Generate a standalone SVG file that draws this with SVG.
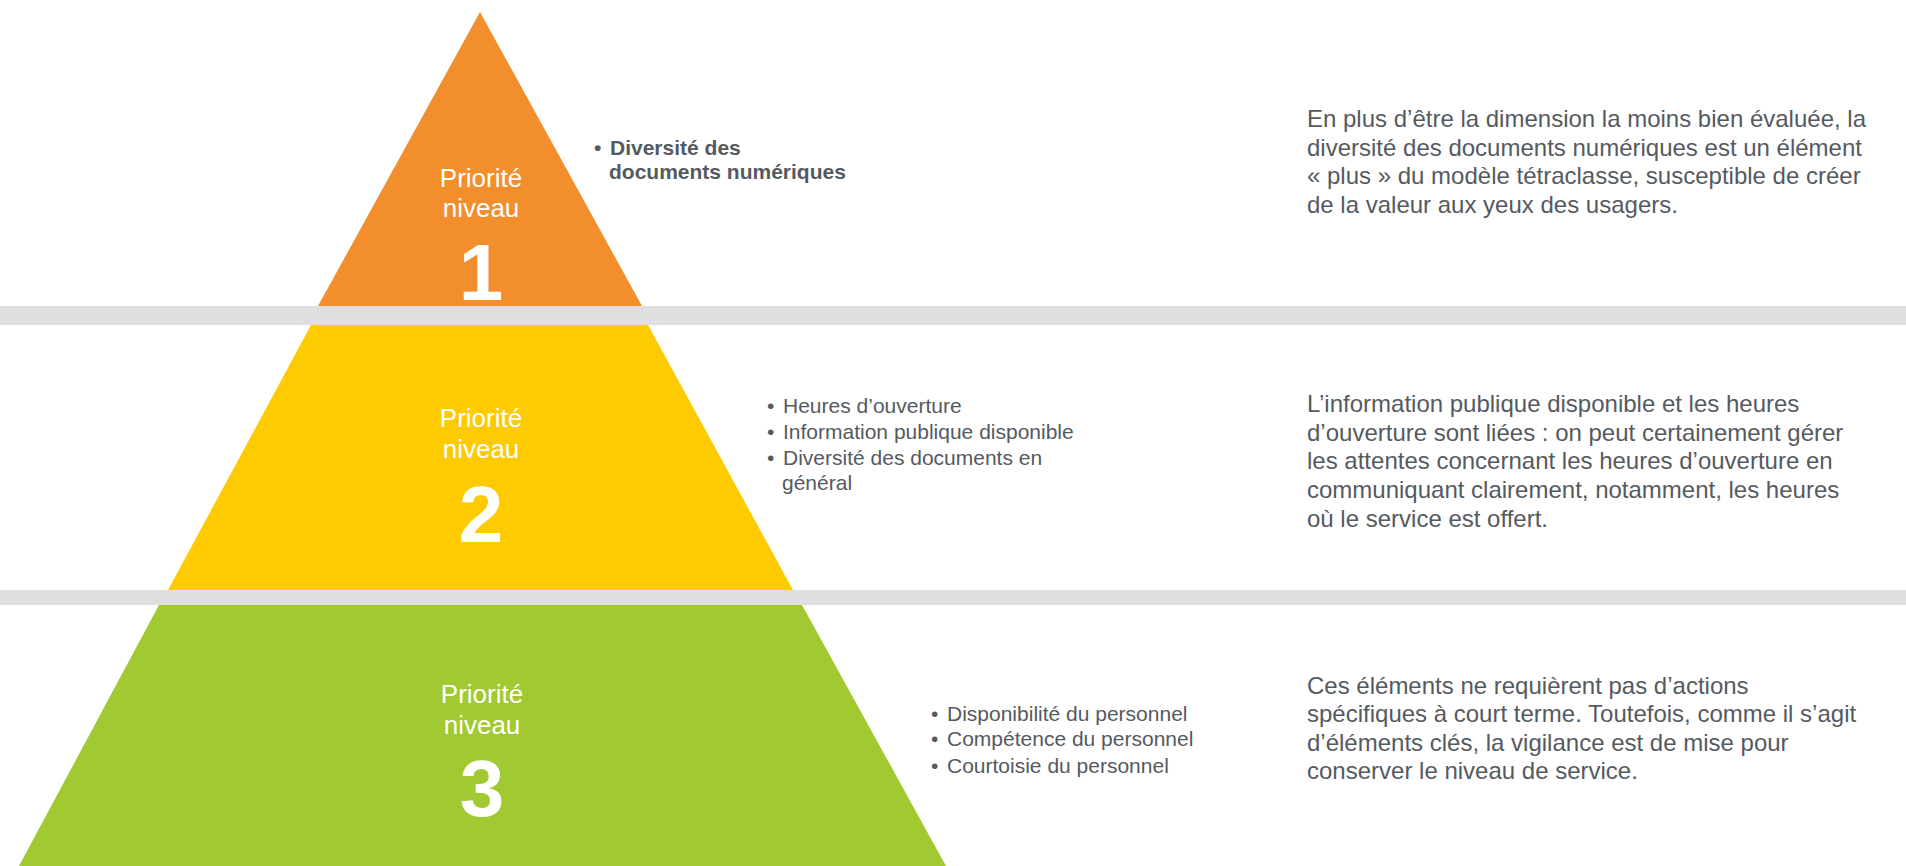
<svg xmlns="http://www.w3.org/2000/svg" width="1906" height="866" viewBox="0 0 1906 866">
  <style>
    .lvl { font-family: "Liberation Sans", Arial, sans-serif; fill: #ffffff; text-anchor: middle; }
    .lbl { font-size: 26px; }
    .num { font-size: 80px; font-weight: bold; }
    .bul { font-family: "Liberation Sans", Arial, sans-serif; font-size: 21px; fill: #555A60; }
    .bold { font-weight: bold; }
    .desc { font-family: "Liberation Sans", Arial, sans-serif; font-size: 24px; fill: #555A60; }
  </style>
  <rect x="0" y="0" width="1906" height="866" fill="#ffffff"/>

  <!-- horizontal separator bands -->
  <g id="bands" fill="#DFDFDF">
    <rect x="0" y="306" width="1906" height="19"/>
    <rect x="0" y="590" width="1906" height="15"/>
  </g>

  <!-- level 1 (top of pyramid) -->
  <g id="level-1">
    <polygon points="480,12 642,306 318,306" fill="#F38E2D"/>
    <text class="lvl lbl" x="481" y="187">Priorité</text>
    <text class="lvl lbl" x="481" y="217">niveau</text>
    <text class="lvl num" x="481" y="300">1</text>
  </g>

  <!-- level 2 -->
  <g id="level-2">
    <polygon points="311,325 648,325 793,590 168,590" fill="#FECB00"/>
    <text class="lvl lbl" x="481" y="427">Priorité</text>
    <text class="lvl lbl" x="481" y="458">niveau</text>
    <text class="lvl num" x="481" y="542">2</text>
  </g>

  <!-- level 3 (base) -->
  <g id="level-3">
    <polygon points="159,605 802,605 946,866 19,866" fill="#A1C931"/>
    <text class="lvl lbl" x="482" y="703">Priorité</text>
    <text class="lvl lbl" x="482" y="734">niveau</text>
    <text class="lvl num" x="482" y="816">3</text>
  </g>

  <!-- bullet lists -->
  <g id="items-1" class="bul bold">
    <text x="594" y="155">•</text>
    <text x="610" y="155">Diversité des</text>
    <text x="609" y="179">documents numériques</text>
  </g>
  <g id="items-2" class="bul">
    <text x="767" y="413">•</text>
    <text x="783" y="413">Heures d’ouverture</text>
    <text x="767" y="439">•</text>
    <text x="783" y="439">Information publique disponible</text>
    <text x="767" y="465">•</text>
    <text x="783" y="465">Diversité des documents en</text>
    <text x="782" y="490">général</text>
  </g>
  <g id="items-3" class="bul">
    <text x="931" y="721">•</text>
    <text x="947" y="721">Disponibilité du personnel</text>
    <text x="931" y="746">•</text>
    <text x="947" y="746">Compétence du personnel</text>
    <text x="931" y="773">•</text>
    <text x="947" y="773">Courtoisie du personnel</text>
  </g>

  <!-- commentary column -->
  <g id="note-1" class="desc">
    <text x="1307" y="127">En plus d’être la dimension la moins bien évaluée, la</text>
    <text x="1307" y="156">diversité des documents numériques est un élément</text>
    <text x="1307" y="184">« plus » du modèle tétraclasse, susceptible de créer</text>
    <text x="1307" y="213">de la valeur aux yeux des usagers.</text>
  </g>
  <g id="note-2" class="desc">
    <text x="1307" y="412">L’information publique disponible et les heures</text>
    <text x="1307" y="441">d’ouverture sont liées : on peut certainement gérer</text>
    <text x="1307" y="469">les attentes concernant les heures d’ouverture en</text>
    <text x="1307" y="498">communiquant clairement, notamment, les heures</text>
    <text x="1307" y="527">où le service est offert.</text>
  </g>
  <g id="note-3" class="desc">
    <text x="1307" y="694">Ces éléments ne requièrent pas d’actions</text>
    <text x="1307" y="722">spécifiques à court terme. Toutefois, comme il s’agit</text>
    <text x="1307" y="751">d’éléments clés, la vigilance est de mise pour</text>
    <text x="1307" y="779">conserver le niveau de service.</text>
  </g>
</svg>
